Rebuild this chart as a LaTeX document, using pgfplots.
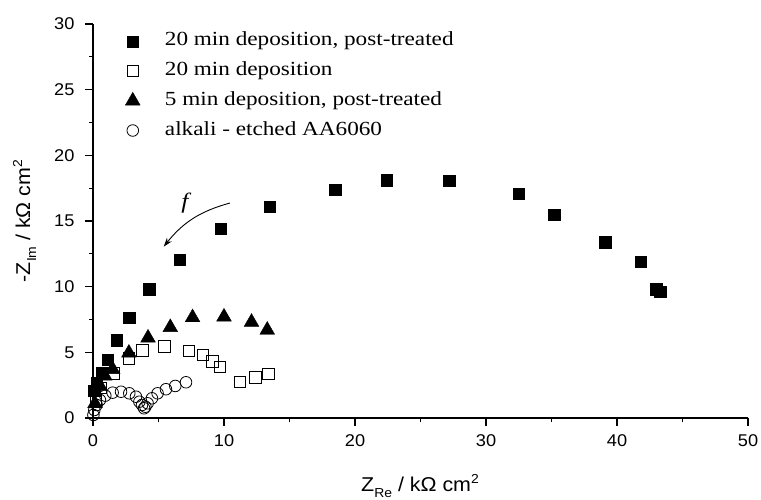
\documentclass[border=0pt]{standalone}
\usepackage{pgfplots}
\pgfplotsset{compat=1.18}
\usepackage{fontspec}
\setmainfont{Liberation Sans}[FakeStretch=1.07]
\newfontfamily\legendfont{Liberation Serif}[FakeStretch=1.16]
\usetikzlibrary{arrows.meta}
\newcommand\ticksize{\fontsize{17bp}{20bp}\selectfont}
\newcommand\labelsize{\fontsize{20bp}{24bp}\selectfont}
\newcommand\legsize{\legendfont\fontsize{20bp}{24bp}\selectfont}
\newcommand\sub[1]{\raisebox{-6bp}{\fontsize{13bp}{13bp}\selectfont #1}}
\newcommand\super[1]{\raisebox{8bp}{\fontsize{13bp}{13bp}\selectfont #1}}

\begin{document}
\begin{tikzpicture}[x=1bp,y=1bp]
\useasboundingbox (0,0) rectangle (761,500);
\begin{axis}[
  at={(93bp,82bp)}, anchor=origin,
  scale only axis, width=655bp, height=394bp,
  xmin=0, xmax=50, ymin=0, ymax=30,
  axis lines=left, axis line style={-, line width=1.2bp},
  tick align=outside, major tick length=8bp, minor tick length=4bp,
  every tick/.style={black, line width=1.1bp},
  xtick={0,10,...,50}, ytick={0,5,...,30},
  minor x tick num=1, minor y tick num=1,
  tick label style={font=\ticksize},
  xticklabel style={yshift=-5bp},
  yticklabel style={xshift=-7bp},
  /pgf/number format/assume math mode=true,
  clip=false,
  legend cell align=left,
  legend image code/.code={%
    \draw[#1] plot coordinates {(0bp,0bp)};
    \path (-6bp,0bp) (31bp,0bp);},
  legend style={at={(rel axis cs:0.0446,0.988)}, anchor=north west, draw=none, fill=none,
    font=\legsize,
    nodes={inner sep=1bp, text height=14bp, text depth=5bp},
    row sep=8.7bp},
]
% 20 min deposition, post-treated
\addplot[only marks, mark=square*, mark size=5.7bp, mark options={fill=black, draw=black}] coordinates {
  (0.10,2.10) (0.30,2.65) (0.66,3.45) (1.12,4.45) (1.81,5.92) (2.76,7.65)
  (4.30,9.80) (6.60,12.05) (9.75,14.40) (13.50,16.10) (18.50,17.40)
  (22.40,18.10) (27.20,18.05) (32.50,17.10) (35.20,15.50) (39.10,13.40)
  (41.80,11.90) (43.00,9.80) (43.30,9.60)
};
\addlegendentry{20 min deposition, post-treated}
% 20 min deposition
\addlegendimage{only marks, mark=square, mark size=5.7bp, mark options={fill=white, draw=black, line width=0.8bp}}
\addlegendentry{20 min deposition}
% 5 min deposition, post-treated
\addplot[only marks, mark=triangle*, mark size=8.5bp, mark options={fill=black, draw=black}] coordinates {
  (0.15,1.10) (0.55,2.40) (0.90,3.20) (1.50,3.70) (2.74,4.95) (4.20,6.10)
  (5.90,6.90) (7.60,7.65) (10.00,7.70) (12.10,7.30) (13.30,6.70)
};
\addlegendentry{5 min deposition, post-treated}
\addplot[only marks, mark=square, mark size=5.7bp, mark options={fill=white, draw=black, line width=0.8bp}, forget plot] coordinates {
  (0.20,1.30) (0.60,2.30) (1.60,3.40) (2.72,4.55) (3.78,5.15) (5.45,5.45)
  (7.30,5.12) (8.37,4.80) (9.10,4.30) (9.70,3.90) (11.20,2.75) (12.40,3.10)
  (13.40,3.35)
};
% alkali-etched AA6060
\addplot[only marks, mark=o, mark size=5.8bp, mark options={fill=white, draw=black, line width=0.8bp}] coordinates {
  (0.03,0.23) (0.10,0.61) (0.28,0.99) (0.53,1.37) (0.94,1.70) (1.50,1.93)
  (2.14,2.00) (2.77,1.88) (3.28,1.62) (3.54,1.24) (3.74,0.99) (3.90,0.74)
  (4.00,0.86) (4.17,1.12) (4.50,1.50) (4.93,1.88) (5.57,2.19) (6.28,2.44)
  (7.10,2.72)
};
\addlegendentry{alkali - etched AA6060}
% frequency direction
\draw[line width=0.9bp, -{Stealth[length=9bp, width=6bp]}] (axis cs:10.46,16.37) to[bend right=18] (axis cs:5.40,13.05);
\node[font=\legendfont\itshape\fontsize{22bp}{24bp}\selectfont] at (axis cs:7.02,16.40) {f};
\end{axis}
\node[rotate=90, anchor=base, font=\labelsize] at (30,279) {-Z\sub{Im} / kΩ cm\super{2}};
\node[anchor=base, font=\labelsize] at (420,8) {Z\sub{Re} / kΩ cm\super{2}};
\end{tikzpicture}
\end{document}
